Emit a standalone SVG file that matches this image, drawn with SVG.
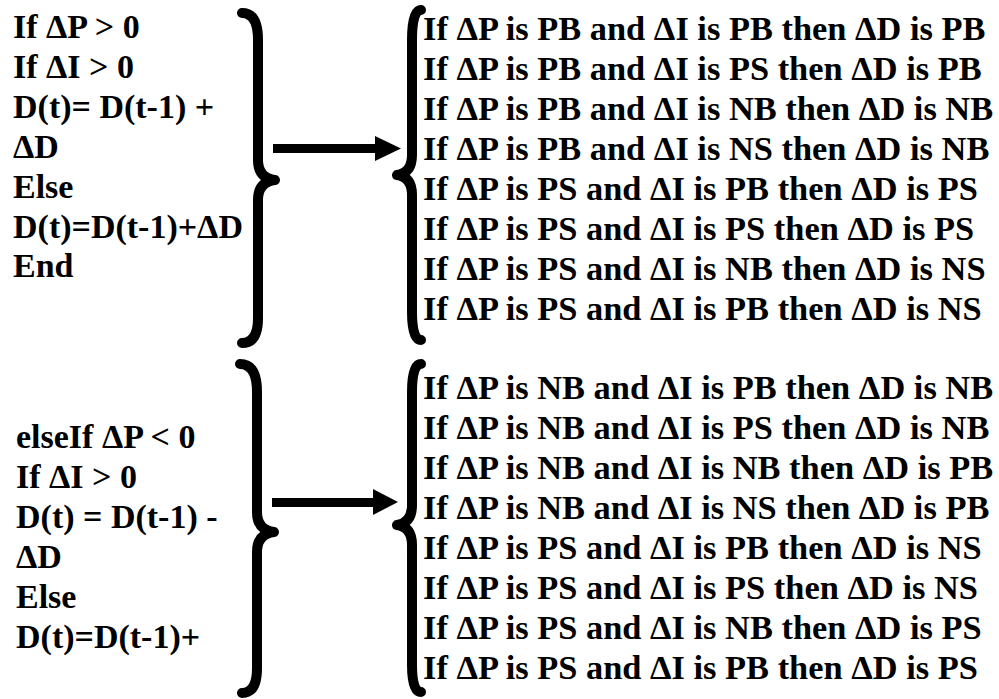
<svg xmlns="http://www.w3.org/2000/svg" width="999" height="699" viewBox="0 0 999 699">
<style>
text{font-family:"Liberation Serif","Times New Roman",serif;font-weight:bold;font-size:34px;fill:#000}
.rule text{font-size:34.4px}
.brace{fill:none;stroke:#000;stroke-width:10;stroke-linecap:round;stroke-linejoin:round}
.arrow{fill:#000}
</style>
<rect width="999" height="699" fill="#fff"/>
<g id="cond-top">
<text x="13" y="38">If ΔP &gt; 0</text>
<text x="13" y="78">If ΔI &gt; 0</text>
<text x="13" y="118">D(t)= D(t-1) +</text>
<text x="13" y="158">ΔD</text>
<text x="13" y="198">Else</text>
<text x="13" y="238">D(t)=D(t-1)+ΔD</text>
<text x="13" y="277">End</text>
</g>
<g id="cond-bottom">
<text x="16" y="448">elseIf ΔP &lt; 0</text>
<text x="16" y="488">If ΔI &gt; 0</text>
<text x="16" y="528">D(t) = D(t-1) -</text>
<text x="16" y="568">ΔD</text>
<text x="16" y="608">Else</text>
<text x="16" y="648">D(t)=D(t-1)+</text>
</g>
<g id="brace-top-left"><path class="brace" d="M242,13 Q258,13 258,40 L258,160 Q258,178 275,180 Q258,182 258,200 L258,318 Q258,343 242,343"/></g>
<g id="brace-top-right"><path class="brace" d="M421,10 Q412,10 412,40 L412,155 Q412,173 397,175 Q412,177 412,195 L412,312 Q412,340 421,340"/></g>
<g id="brace-bottom-left"><path class="brace" d="M240,364 Q257,364 257,392 L257,512 Q257,530 274,532 Q257,534 257,552 L257,668 Q257,693 242,693"/></g>
<g id="brace-bottom-right"><path class="brace" d="M421,364 Q412,364 412,392 L412,505 Q412,523 397,525 Q412,527 412,545 L412,665 Q412,692 421,692"/></g>
<g id="connectors">
<path class="arrow" d="M273,144 L375,144 L375,136 L401,148.5 L375,161 L375,153 L273,153 Z"/>
<path class="arrow" d="M272,498 L373,498 L373,489 L398,502 L373,515 L373,507 L272,507 Z"/>
</g>
<g id="rules-top" class="rule">
<text x="423" y="40">If ΔP is PB and ΔI is PB then ΔD is PB</text>
<text x="423" y="80">If ΔP is PB and ΔI is PS then ΔD is PB</text>
<text x="423" y="120">If ΔP is PB and ΔI is NB then ΔD is NB</text>
<text x="423" y="160">If ΔP is PB and ΔI is NS then ΔD is NB</text>
<text x="423" y="200">If ΔP is PS and ΔI is PB then ΔD is PS</text>
<text x="423" y="240">If ΔP is PS and ΔI is PS then ΔD is PS</text>
<text x="423" y="280">If ΔP is PS and ΔI is NB then ΔD is NS</text>
<text x="423" y="320">If ΔP is PS and ΔI is PB then ΔD is NS</text>
</g>
<g id="rules-bottom" class="rule">
<text x="423" y="399">If ΔP is NB and ΔI is PB then ΔD is NB</text>
<text x="423" y="439">If ΔP is NB and ΔI is PS then ΔD is NB</text>
<text x="423" y="479">If ΔP is NB and ΔI is NB then ΔD is PB</text>
<text x="423" y="519">If ΔP is NB and ΔI is NS then ΔD is PB</text>
<text x="423" y="559">If ΔP is PS and ΔI is PB then ΔD is NS</text>
<text x="423" y="599">If ΔP is PS and ΔI is PS then ΔD is NS</text>
<text x="423" y="639">If ΔP is PS and ΔI is NB then ΔD is PS</text>
<text x="423" y="679">If ΔP is PS and ΔI is PB then ΔD is PS</text>
</g>
</svg>
